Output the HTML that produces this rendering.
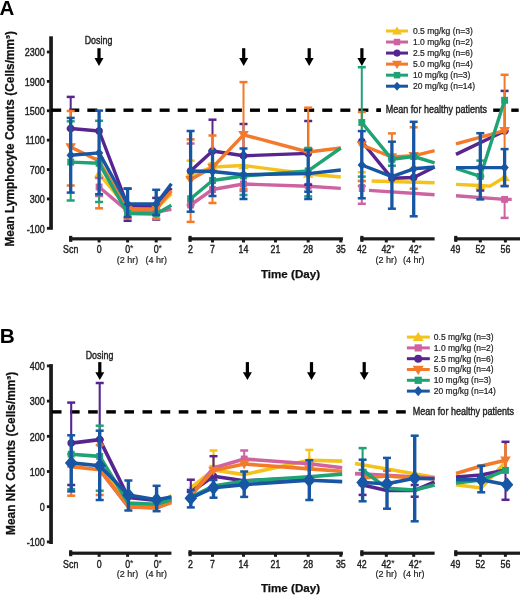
<!DOCTYPE html>
<html><head><meta charset="utf-8"><style>
html,body{margin:0;padding:0;background:#fff;width:520px;height:595px;overflow:hidden}
svg{display:block;will-change:transform}
text{font-family:"Liberation Sans", sans-serif}
</style></head><body>
<svg width="520" height="595" viewBox="0 0 520 595">
<rect width="520" height="595" fill="#fff"/>
<text transform="translate(-0.40,14.50)" font-size="20.5" font-weight="bold" text-anchor="start" fill="#000">A</text>
<rect x="49.20" y="36.30" width="3.70" height="193.50" fill="#1a1a1a"/>
<rect x="46.90" y="50.60" width="3.00" height="2.80" fill="#1a1a1a"/>
<text transform="translate(44.80,56.20) scale(0.82,1)" font-size="11" font-weight="normal" text-anchor="end" fill="#222" stroke="#222" stroke-width="0.42">2300</text>
<rect x="46.90" y="79.98" width="3.00" height="2.80" fill="#1a1a1a"/>
<text transform="translate(44.80,85.58) scale(0.82,1)" font-size="11" font-weight="normal" text-anchor="end" fill="#222" stroke="#222" stroke-width="0.42">1900</text>
<rect x="46.90" y="109.37" width="3.00" height="2.80" fill="#1a1a1a"/>
<text transform="translate(44.80,114.97) scale(0.82,1)" font-size="11" font-weight="normal" text-anchor="end" fill="#222" stroke="#222" stroke-width="0.42">1500</text>
<rect x="46.90" y="138.75" width="3.00" height="2.80" fill="#1a1a1a"/>
<text transform="translate(44.80,144.35) scale(0.82,1)" font-size="11" font-weight="normal" text-anchor="end" fill="#222" stroke="#222" stroke-width="0.42">1100</text>
<rect x="46.90" y="168.13" width="3.00" height="2.80" fill="#1a1a1a"/>
<text transform="translate(44.80,173.73) scale(0.82,1)" font-size="11" font-weight="normal" text-anchor="end" fill="#222" stroke="#222" stroke-width="0.42">700</text>
<rect x="46.90" y="197.52" width="3.00" height="2.80" fill="#1a1a1a"/>
<text transform="translate(44.80,203.12) scale(0.82,1)" font-size="11" font-weight="normal" text-anchor="end" fill="#222" stroke="#222" stroke-width="0.42">300</text>
<rect x="46.90" y="226.90" width="3.00" height="2.80" fill="#1a1a1a"/>
<text transform="translate(44.80,232.50) scale(0.82,1)" font-size="11" font-weight="normal" text-anchor="end" fill="#222" stroke="#222" stroke-width="0.42">-100</text>
<text transform="translate(13.70,246.60) rotate(-90)" font-size="11.9" font-weight="bold" text-anchor="start" fill="#111" stroke="#111" stroke-width="0.25">Mean Lymphocyte Counts (Cells/mm³)</text>
<rect x="69.10" y="237.25" width="102.30" height="3.20" fill="#1a1a1a"/>
<rect x="69.10" y="235.85" width="3.20" height="6.00" fill="#1a1a1a"/>
<rect x="188.50" y="237.25" width="154.40" height="3.20" fill="#1a1a1a"/>
<rect x="188.50" y="235.85" width="3.20" height="6.00" fill="#1a1a1a"/>
<rect x="360.30" y="237.25" width="74.30" height="3.20" fill="#1a1a1a"/>
<rect x="360.30" y="235.85" width="3.20" height="6.00" fill="#1a1a1a"/>
<rect x="454.20" y="237.25" width="65.80" height="3.20" fill="#1a1a1a"/>
<rect x="454.20" y="235.85" width="3.20" height="6.00" fill="#1a1a1a"/>
<rect x="97.60" y="238.85" width="3.00" height="3.60" fill="#1a1a1a"/>
<rect x="126.10" y="238.85" width="3.00" height="3.60" fill="#1a1a1a"/>
<rect x="154.70" y="238.85" width="3.00" height="3.60" fill="#1a1a1a"/>
<rect x="211.00" y="238.85" width="3.00" height="3.60" fill="#1a1a1a"/>
<rect x="242.00" y="238.85" width="3.00" height="3.60" fill="#1a1a1a"/>
<rect x="274.00" y="238.85" width="3.00" height="3.60" fill="#1a1a1a"/>
<rect x="306.70" y="238.85" width="3.00" height="3.60" fill="#1a1a1a"/>
<rect x="339.30" y="238.85" width="3.00" height="3.60" fill="#1a1a1a"/>
<rect x="384.80" y="238.85" width="3.00" height="3.60" fill="#1a1a1a"/>
<rect x="412.20" y="238.85" width="3.00" height="3.60" fill="#1a1a1a"/>
<rect x="478.80" y="238.85" width="3.00" height="3.60" fill="#1a1a1a"/>
<rect x="503.90" y="238.85" width="3.00" height="3.60" fill="#1a1a1a"/>
<text transform="translate(70.70,253.40) scale(0.84,1)" font-size="10.5" font-weight="normal" text-anchor="middle" fill="#222" stroke="#222" stroke-width="0.42">Scn</text>
<text transform="translate(99.10,253.40) scale(0.84,1)" font-size="10.5" font-weight="normal" text-anchor="middle" fill="#222" stroke="#222" stroke-width="0.42">0</text>
<text transform="translate(127.60,253.40) scale(0.84,1)" font-size="10.5" font-weight="normal" text-anchor="middle" fill="#222" stroke="#222" stroke-width="0.42">0</text>
<text transform="translate(127.60,262.80)" font-size="9.0" font-weight="normal" text-anchor="middle" fill="#222" stroke="#222" stroke-width="0.2">(2 hr)</text>
<text transform="translate(156.20,253.40) scale(0.84,1)" font-size="10.5" font-weight="normal" text-anchor="middle" fill="#222" stroke="#222" stroke-width="0.42">0</text>
<text transform="translate(156.20,262.80)" font-size="9.0" font-weight="normal" text-anchor="middle" fill="#222" stroke="#222" stroke-width="0.2">(4 hr)</text>
<text transform="translate(190.50,253.40) scale(0.84,1)" font-size="10.5" font-weight="normal" text-anchor="middle" fill="#222" stroke="#222" stroke-width="0.42">2</text>
<text transform="translate(212.50,253.40) scale(0.84,1)" font-size="10.5" font-weight="normal" text-anchor="middle" fill="#222" stroke="#222" stroke-width="0.42">7</text>
<text transform="translate(243.50,253.40) scale(0.84,1)" font-size="10.5" font-weight="normal" text-anchor="middle" fill="#222" stroke="#222" stroke-width="0.42">14</text>
<text transform="translate(275.50,253.40) scale(0.84,1)" font-size="10.5" font-weight="normal" text-anchor="middle" fill="#222" stroke="#222" stroke-width="0.42">21</text>
<text transform="translate(308.20,253.40) scale(0.84,1)" font-size="10.5" font-weight="normal" text-anchor="middle" fill="#222" stroke="#222" stroke-width="0.42">28</text>
<text transform="translate(340.80,253.40) scale(0.84,1)" font-size="10.5" font-weight="normal" text-anchor="middle" fill="#222" stroke="#222" stroke-width="0.42">35</text>
<text transform="translate(361.80,253.40) scale(0.84,1)" font-size="10.5" font-weight="normal" text-anchor="middle" fill="#222" stroke="#222" stroke-width="0.42">42</text>
<text transform="translate(386.30,253.40) scale(0.84,1)" font-size="10.5" font-weight="normal" text-anchor="middle" fill="#222" stroke="#222" stroke-width="0.42">42</text>
<text transform="translate(386.30,262.80)" font-size="9.0" font-weight="normal" text-anchor="middle" fill="#222" stroke="#222" stroke-width="0.2">(2 hr)</text>
<text transform="translate(413.70,253.40) scale(0.84,1)" font-size="10.5" font-weight="normal" text-anchor="middle" fill="#222" stroke="#222" stroke-width="0.42">42</text>
<text transform="translate(413.70,262.80)" font-size="9.0" font-weight="normal" text-anchor="middle" fill="#222" stroke="#222" stroke-width="0.2">(4 hr)</text>
<text transform="translate(455.50,253.40) scale(0.84,1)" font-size="10.5" font-weight="normal" text-anchor="middle" fill="#222" stroke="#222" stroke-width="0.42">49</text>
<text transform="translate(480.30,253.40) scale(0.84,1)" font-size="10.5" font-weight="normal" text-anchor="middle" fill="#222" stroke="#222" stroke-width="0.42">52</text>
<text transform="translate(505.40,253.40) scale(0.84,1)" font-size="10.5" font-weight="normal" text-anchor="middle" fill="#222" stroke="#222" stroke-width="0.42">56</text>
<text transform="translate(131.65,251.40)" font-size="8.5" font-weight="normal" text-anchor="middle" fill="#222" stroke="#222" stroke-width="0.1">*</text>
<text transform="translate(160.25,251.40)" font-size="8.5" font-weight="normal" text-anchor="middle" fill="#222" stroke="#222" stroke-width="0.1">*</text>
<text transform="translate(392.80,251.40)" font-size="8.5" font-weight="normal" text-anchor="middle" fill="#222" stroke="#222" stroke-width="0.1">*</text>
<text transform="translate(420.20,251.40)" font-size="8.5" font-weight="normal" text-anchor="middle" fill="#222" stroke="#222" stroke-width="0.1">*</text>
<text transform="translate(290.50,277.60)" font-size="11.6" font-weight="bold" text-anchor="middle" fill="#111" stroke="#111" stroke-width="0.25">Time (Day)</text>
<text transform="translate(98.50,44.20) scale(0.84,1)" font-size="10.6" font-weight="normal" text-anchor="middle" fill="#222" stroke="#222" stroke-width="0.4">Dosing</text>
<rect x="97.40" y="48.20" width="3.20" height="10.70" fill="#000"/>
<polygon points="94.50,57.90 103.50,57.90 99.00,66.00" fill="#000"/>
<rect x="242.10" y="48.20" width="3.20" height="10.70" fill="#000"/>
<polygon points="239.20,57.90 248.20,57.90 243.70,66.00" fill="#000"/>
<rect x="307.60" y="48.20" width="3.20" height="10.70" fill="#000"/>
<polygon points="304.70,57.90 313.70,57.90 309.20,66.00" fill="#000"/>
<rect x="360.30" y="48.20" width="3.20" height="10.70" fill="#000"/>
<polygon points="357.40,57.90 366.40,57.90 361.90,66.00" fill="#000"/>
<rect x="51.20" y="108.50" width="10.00" height="3.40" fill="#000"/>
<rect x="69.27" y="108.50" width="10.00" height="3.40" fill="#000"/>
<rect x="87.34" y="108.50" width="10.00" height="3.40" fill="#000"/>
<rect x="105.41" y="108.50" width="10.00" height="3.40" fill="#000"/>
<rect x="123.48" y="108.50" width="10.00" height="3.40" fill="#000"/>
<rect x="141.55" y="108.50" width="10.00" height="3.40" fill="#000"/>
<rect x="159.62" y="108.50" width="10.00" height="3.40" fill="#000"/>
<rect x="177.69" y="108.50" width="10.00" height="3.40" fill="#000"/>
<rect x="195.76" y="108.50" width="10.00" height="3.40" fill="#000"/>
<rect x="213.83" y="108.50" width="10.00" height="3.40" fill="#000"/>
<rect x="231.90" y="108.50" width="10.00" height="3.40" fill="#000"/>
<rect x="249.97" y="108.50" width="10.00" height="3.40" fill="#000"/>
<rect x="268.04" y="108.50" width="10.00" height="3.40" fill="#000"/>
<rect x="286.11" y="108.50" width="10.00" height="3.40" fill="#000"/>
<rect x="304.18" y="108.50" width="10.00" height="3.40" fill="#000"/>
<rect x="322.25" y="108.50" width="10.00" height="3.40" fill="#000"/>
<rect x="340.32" y="108.50" width="10.00" height="3.40" fill="#000"/>
<rect x="358.39" y="108.50" width="10.00" height="3.40" fill="#000"/>
<rect x="376.46" y="108.50" width="4.54" height="3.40" fill="#000"/>
<rect x="376.50" y="108.50" width="4.30" height="3.40" fill="#000"/>
<rect x="493.20" y="108.50" width="7.40" height="3.40" fill="#000"/>
<rect x="511.27" y="108.50" width="7.40" height="3.40" fill="#000"/>
<text transform="translate(385.80,113.00) scale(0.86,1)" font-size="10.5" font-weight="normal" text-anchor="start" fill="#222" stroke="#222" stroke-width="0.4">Mean for healthy patients</text>
<line x1="386.00" y1="31.00" x2="408.00" y2="31.00" stroke="#F5C21B" stroke-width="3.0" stroke-linecap="butt"/>
<polygon points="392.03,34.46 401.97,34.46 397.00,26.46" fill="#F5C21B"/>
<text transform="translate(413.00,33.90)" font-size="8.5" font-weight="normal" text-anchor="start" fill="#222" stroke="#222" stroke-width="0.2">0.5 mg/kg (n=3)</text>
<line x1="386.00" y1="42.04" x2="408.00" y2="42.04" stroke="#CF62A0" stroke-width="3.0" stroke-linecap="butt"/>
<rect x="393.76" y="38.80" width="6.48" height="6.48" fill="#CF62A0"/>
<text transform="translate(413.00,44.94)" font-size="8.5" font-weight="normal" text-anchor="start" fill="#222" stroke="#222" stroke-width="0.2">1.0 mg/kg (n=2)</text>
<line x1="386.00" y1="53.08" x2="408.00" y2="53.08" stroke="#572590" stroke-width="3.0" stroke-linecap="butt"/>
<circle cx="397.00" cy="53.08" r="3.56" fill="#572590"/>
<text transform="translate(413.00,55.98)" font-size="8.5" font-weight="normal" text-anchor="start" fill="#222" stroke="#222" stroke-width="0.2">2.5 mg/kg (n=6)</text>
<line x1="386.00" y1="64.12" x2="408.00" y2="64.12" stroke="#F37A2A" stroke-width="3.0" stroke-linecap="butt"/>
<polygon points="392.03,60.66 401.97,60.66 397.00,69.09" fill="#F37A2A"/>
<text transform="translate(413.00,67.02)" font-size="8.5" font-weight="normal" text-anchor="start" fill="#222" stroke="#222" stroke-width="0.2">5.0 mg/kg (n=4)</text>
<line x1="386.00" y1="75.16" x2="408.00" y2="75.16" stroke="#1FA274" stroke-width="3.0" stroke-linecap="butt"/>
<rect x="393.76" y="71.92" width="6.48" height="6.48" fill="#1FA274"/>
<text transform="translate(413.00,78.06)" font-size="8.5" font-weight="normal" text-anchor="start" fill="#222" stroke="#222" stroke-width="0.2">10 mg/kg (n=3)</text>
<line x1="386.00" y1="86.20" x2="408.00" y2="86.20" stroke="#1756A3" stroke-width="3.0" stroke-linecap="butt"/>
<polygon points="397.00,81.66 400.89,86.20 397.00,90.74 393.11,86.20" fill="#1756A3"/>
<text transform="translate(413.00,89.10)" font-size="8.5" font-weight="normal" text-anchor="start" fill="#222" stroke="#222" stroke-width="0.2">20 mg/kg (n=14)</text>
<line x1="190.60" y1="160.70" x2="190.60" y2="175.00" stroke="#F5C21B" stroke-width="2.0" stroke-linecap="butt"/>
<line x1="186.60" y1="160.70" x2="194.60" y2="160.70" stroke="#F5C21B" stroke-width="2.5" stroke-linecap="butt"/>
<line x1="186.60" y1="175.00" x2="194.60" y2="175.00" stroke="#F5C21B" stroke-width="2.5" stroke-linecap="butt"/>
<line x1="212.50" y1="163.50" x2="212.50" y2="167.00" stroke="#F5C21B" stroke-width="2.0" stroke-linecap="butt"/>
<line x1="208.50" y1="163.50" x2="216.50" y2="163.50" stroke="#F5C21B" stroke-width="2.5" stroke-linecap="butt"/>
<line x1="208.50" y1="167.00" x2="216.50" y2="167.00" stroke="#F5C21B" stroke-width="2.5" stroke-linecap="butt"/>
<line x1="361.80" y1="172.30" x2="361.80" y2="181.00" stroke="#F5C21B" stroke-width="2.0" stroke-linecap="butt"/>
<line x1="357.80" y1="172.30" x2="365.80" y2="172.30" stroke="#F5C21B" stroke-width="2.5" stroke-linecap="butt"/>
<line x1="357.80" y1="181.00" x2="365.80" y2="181.00" stroke="#F5C21B" stroke-width="2.5" stroke-linecap="butt"/>
<polyline points="99.10,174.00 127.60,208.00 156.20,208.50 171.40,193.50" fill="none" stroke="#F5C21B" stroke-width="3.4" stroke-linejoin="round" stroke-linecap="butt"/>
<polyline points="190.60,175.00 212.50,167.00 243.50,165.50 308.20,174.00 340.80,177.00" fill="none" stroke="#F5C21B" stroke-width="3.4" stroke-linejoin="round" stroke-linecap="butt"/>
<polyline points="371.60,181.00 434.60,182.70" fill="none" stroke="#F5C21B" stroke-width="3.4" stroke-linejoin="round" stroke-linecap="butt"/>
<polyline points="456.00,184.40 480.30,185.50 490.00,186.10 504.60,177.30" fill="none" stroke="#F5C21B" stroke-width="3.4" stroke-linejoin="round" stroke-linecap="butt"/>
<polygon points="93.81,177.68 104.39,177.68 99.10,169.17" fill="#F5C21B"/>
<polygon points="122.31,211.68 132.89,211.68 127.60,203.17" fill="#F5C21B"/>
<polygon points="150.91,212.18 161.49,212.18 156.20,203.67" fill="#F5C21B"/>
<polygon points="185.31,178.68 195.89,178.68 190.60,170.17" fill="#F5C21B"/>
<polygon points="207.21,170.68 217.79,170.68 212.50,162.17" fill="#F5C21B"/>
<polygon points="238.21,169.18 248.79,169.18 243.50,160.67" fill="#F5C21B"/>
<polygon points="302.91,177.68 313.49,177.68 308.20,169.17" fill="#F5C21B"/>
<polygon points="475.01,189.18 485.59,189.18 480.30,180.67" fill="#F5C21B"/>
<polygon points="499.31,180.98 509.89,180.98 504.60,172.47" fill="#F5C21B"/>
<line x1="99.10" y1="178.00" x2="99.10" y2="196.00" stroke="#CF62A0" stroke-width="2.0" stroke-linecap="butt"/>
<line x1="95.10" y1="178.00" x2="103.10" y2="178.00" stroke="#CF62A0" stroke-width="2.5" stroke-linecap="butt"/>
<line x1="95.10" y1="196.00" x2="103.10" y2="196.00" stroke="#CF62A0" stroke-width="2.5" stroke-linecap="butt"/>
<line x1="190.60" y1="143.50" x2="190.60" y2="205.00" stroke="#CF62A0" stroke-width="2.0" stroke-linecap="butt"/>
<line x1="186.60" y1="143.50" x2="194.60" y2="143.50" stroke="#CF62A0" stroke-width="2.5" stroke-linecap="butt"/>
<line x1="186.60" y1="205.00" x2="194.60" y2="205.00" stroke="#CF62A0" stroke-width="2.5" stroke-linecap="butt"/>
<line x1="243.50" y1="184.00" x2="243.50" y2="191.00" stroke="#CF62A0" stroke-width="2.0" stroke-linecap="butt"/>
<line x1="239.50" y1="184.00" x2="247.50" y2="184.00" stroke="#CF62A0" stroke-width="2.5" stroke-linecap="butt"/>
<line x1="239.50" y1="191.00" x2="247.50" y2="191.00" stroke="#CF62A0" stroke-width="2.5" stroke-linecap="butt"/>
<line x1="361.80" y1="186.00" x2="361.80" y2="203.80" stroke="#CF62A0" stroke-width="2.0" stroke-linecap="butt"/>
<line x1="357.80" y1="186.00" x2="365.80" y2="186.00" stroke="#CF62A0" stroke-width="2.5" stroke-linecap="butt"/>
<line x1="357.80" y1="203.80" x2="365.80" y2="203.80" stroke="#CF62A0" stroke-width="2.5" stroke-linecap="butt"/>
<line x1="504.60" y1="199.40" x2="504.60" y2="217.90" stroke="#CF62A0" stroke-width="2.0" stroke-linecap="butt"/>
<line x1="500.60" y1="199.40" x2="508.60" y2="199.40" stroke="#CF62A0" stroke-width="2.5" stroke-linecap="butt"/>
<line x1="500.60" y1="217.90" x2="508.60" y2="217.90" stroke="#CF62A0" stroke-width="2.5" stroke-linecap="butt"/>
<polyline points="99.10,187.00 127.60,211.00 156.20,212.00 171.40,209.30" fill="none" stroke="#CF62A0" stroke-width="3.4" stroke-linejoin="round" stroke-linecap="butt"/>
<polyline points="190.60,205.00 212.50,189.50 243.50,184.00 308.20,186.20 340.80,188.40" fill="none" stroke="#CF62A0" stroke-width="3.4" stroke-linejoin="round" stroke-linecap="butt"/>
<polyline points="369.00,190.40 434.60,194.80" fill="none" stroke="#CF62A0" stroke-width="3.4" stroke-linejoin="round" stroke-linecap="butt"/>
<polyline points="456.00,195.80 504.60,199.40 511.70,199.40" fill="none" stroke="#CF62A0" stroke-width="3.4" stroke-linejoin="round" stroke-linecap="butt"/>
<rect x="95.65" y="183.55" width="6.90" height="6.90" fill="#CF62A0"/>
<rect x="124.15" y="207.55" width="6.90" height="6.90" fill="#CF62A0"/>
<rect x="152.75" y="208.55" width="6.90" height="6.90" fill="#CF62A0"/>
<rect x="187.15" y="201.55" width="6.90" height="6.90" fill="#CF62A0"/>
<rect x="209.05" y="186.05" width="6.90" height="6.90" fill="#CF62A0"/>
<rect x="240.05" y="180.55" width="6.90" height="6.90" fill="#CF62A0"/>
<rect x="304.75" y="182.75" width="6.90" height="6.90" fill="#CF62A0"/>
<rect x="501.15" y="195.95" width="6.90" height="6.90" fill="#CF62A0"/>
<rect x="358.8" y="184" width="6" height="8" fill="#CF62A0"/>
<line x1="70.70" y1="96.90" x2="70.70" y2="128.50" stroke="#572590" stroke-width="2.0" stroke-linecap="butt"/>
<line x1="66.70" y1="96.90" x2="74.70" y2="96.90" stroke="#572590" stroke-width="2.5" stroke-linecap="butt"/>
<line x1="66.70" y1="128.50" x2="74.70" y2="128.50" stroke="#572590" stroke-width="2.5" stroke-linecap="butt"/>
<line x1="127.60" y1="188.50" x2="127.60" y2="220.80" stroke="#572590" stroke-width="2.0" stroke-linecap="butt"/>
<line x1="123.60" y1="188.50" x2="131.60" y2="188.50" stroke="#572590" stroke-width="2.5" stroke-linecap="butt"/>
<line x1="123.60" y1="220.80" x2="131.60" y2="220.80" stroke="#572590" stroke-width="2.5" stroke-linecap="butt"/>
<line x1="156.20" y1="197.90" x2="156.20" y2="219.50" stroke="#572590" stroke-width="2.0" stroke-linecap="butt"/>
<line x1="152.20" y1="197.90" x2="160.20" y2="197.90" stroke="#572590" stroke-width="2.5" stroke-linecap="butt"/>
<line x1="152.20" y1="219.50" x2="160.20" y2="219.50" stroke="#572590" stroke-width="2.5" stroke-linecap="butt"/>
<line x1="212.50" y1="119.70" x2="212.50" y2="151.00" stroke="#572590" stroke-width="2.0" stroke-linecap="butt"/>
<line x1="208.50" y1="119.70" x2="216.50" y2="119.70" stroke="#572590" stroke-width="2.5" stroke-linecap="butt"/>
<line x1="208.50" y1="151.00" x2="216.50" y2="151.00" stroke="#572590" stroke-width="2.5" stroke-linecap="butt"/>
<line x1="243.50" y1="124.00" x2="243.50" y2="155.80" stroke="#572590" stroke-width="2.0" stroke-linecap="butt"/>
<line x1="239.50" y1="124.00" x2="247.50" y2="124.00" stroke="#572590" stroke-width="2.5" stroke-linecap="butt"/>
<line x1="239.50" y1="155.80" x2="247.50" y2="155.80" stroke="#572590" stroke-width="2.5" stroke-linecap="butt"/>
<line x1="308.20" y1="121.00" x2="308.20" y2="184.70" stroke="#572590" stroke-width="2.0" stroke-linecap="butt"/>
<line x1="304.20" y1="121.00" x2="312.20" y2="121.00" stroke="#572590" stroke-width="2.5" stroke-linecap="butt"/>
<line x1="304.20" y1="184.70" x2="312.20" y2="184.70" stroke="#572590" stroke-width="2.5" stroke-linecap="butt"/>
<line x1="504.60" y1="90.90" x2="504.60" y2="131.00" stroke="#572590" stroke-width="2.0" stroke-linecap="butt"/>
<line x1="500.60" y1="90.90" x2="508.60" y2="90.90" stroke="#572590" stroke-width="2.5" stroke-linecap="butt"/>
<line x1="500.60" y1="131.00" x2="508.60" y2="131.00" stroke="#572590" stroke-width="2.5" stroke-linecap="butt"/>
<line x1="480.30" y1="167.00" x2="480.30" y2="190.50" stroke="#572590" stroke-width="2.0" stroke-linecap="butt"/>
<line x1="476.30" y1="167.00" x2="484.30" y2="167.00" stroke="#572590" stroke-width="2.5" stroke-linecap="butt"/>
<line x1="476.30" y1="190.50" x2="484.30" y2="190.50" stroke="#572590" stroke-width="2.5" stroke-linecap="butt"/>
<polyline points="70.70,128.50 99.10,131.00 127.60,205.50 156.20,206.00 171.40,188.00" fill="none" stroke="#572590" stroke-width="3.4" stroke-linejoin="round" stroke-linecap="butt"/>
<polyline points="190.60,171.00 212.50,151.00 243.50,155.80 308.20,153.40" fill="none" stroke="#572590" stroke-width="3.4" stroke-linejoin="round" stroke-linecap="butt"/>
<polyline points="361.80,141.50 391.90,178.30 413.70,177.50 434.60,167.00" fill="none" stroke="#572590" stroke-width="3.4" stroke-linejoin="round" stroke-linecap="butt"/>
<polyline points="456.00,154.40 504.60,131.00" fill="none" stroke="#572590" stroke-width="3.4" stroke-linejoin="round" stroke-linecap="butt"/>
<circle cx="70.70" cy="128.50" r="3.79" fill="#572590"/>
<circle cx="99.10" cy="131.00" r="3.79" fill="#572590"/>
<circle cx="127.60" cy="205.50" r="3.79" fill="#572590"/>
<circle cx="156.20" cy="206.00" r="3.79" fill="#572590"/>
<circle cx="190.60" cy="171.00" r="3.79" fill="#572590"/>
<circle cx="212.50" cy="151.00" r="3.79" fill="#572590"/>
<circle cx="243.50" cy="155.80" r="3.79" fill="#572590"/>
<circle cx="308.20" cy="153.40" r="3.79" fill="#572590"/>
<circle cx="361.80" cy="141.50" r="3.79" fill="#572590"/>
<circle cx="391.90" cy="178.30" r="3.79" fill="#572590"/>
<circle cx="413.70" cy="177.50" r="3.79" fill="#572590"/>
<circle cx="504.60" cy="131.00" r="3.79" fill="#572590"/>
<line x1="70.70" y1="111.00" x2="70.70" y2="185.50" stroke="#F37A2A" stroke-width="2.0" stroke-linecap="butt"/>
<line x1="66.70" y1="111.00" x2="74.70" y2="111.00" stroke="#F37A2A" stroke-width="2.5" stroke-linecap="butt"/>
<line x1="66.70" y1="185.50" x2="74.70" y2="185.50" stroke="#F37A2A" stroke-width="2.5" stroke-linecap="butt"/>
<line x1="99.10" y1="161.00" x2="99.10" y2="208.30" stroke="#F37A2A" stroke-width="2.0" stroke-linecap="butt"/>
<line x1="95.10" y1="161.00" x2="103.10" y2="161.00" stroke="#F37A2A" stroke-width="2.5" stroke-linecap="butt"/>
<line x1="95.10" y1="208.30" x2="103.10" y2="208.30" stroke="#F37A2A" stroke-width="2.5" stroke-linecap="butt"/>
<line x1="127.60" y1="209.30" x2="127.60" y2="218.30" stroke="#F37A2A" stroke-width="2.0" stroke-linecap="butt"/>
<line x1="123.60" y1="209.30" x2="131.60" y2="209.30" stroke="#F37A2A" stroke-width="2.5" stroke-linecap="butt"/>
<line x1="123.60" y1="218.30" x2="131.60" y2="218.30" stroke="#F37A2A" stroke-width="2.5" stroke-linecap="butt"/>
<line x1="156.20" y1="209.00" x2="156.20" y2="218.70" stroke="#F37A2A" stroke-width="2.0" stroke-linecap="butt"/>
<line x1="152.20" y1="209.00" x2="160.20" y2="209.00" stroke="#F37A2A" stroke-width="2.5" stroke-linecap="butt"/>
<line x1="152.20" y1="218.70" x2="160.20" y2="218.70" stroke="#F37A2A" stroke-width="2.5" stroke-linecap="butt"/>
<line x1="190.60" y1="139.40" x2="190.60" y2="221.90" stroke="#F37A2A" stroke-width="2.0" stroke-linecap="butt"/>
<line x1="186.60" y1="139.40" x2="194.60" y2="139.40" stroke="#F37A2A" stroke-width="2.5" stroke-linecap="butt"/>
<line x1="186.60" y1="221.90" x2="194.60" y2="221.90" stroke="#F37A2A" stroke-width="2.5" stroke-linecap="butt"/>
<line x1="212.50" y1="135.50" x2="212.50" y2="203.00" stroke="#F37A2A" stroke-width="2.0" stroke-linecap="butt"/>
<line x1="208.50" y1="135.50" x2="216.50" y2="135.50" stroke="#F37A2A" stroke-width="2.5" stroke-linecap="butt"/>
<line x1="208.50" y1="203.00" x2="216.50" y2="203.00" stroke="#F37A2A" stroke-width="2.5" stroke-linecap="butt"/>
<line x1="243.50" y1="82.10" x2="243.50" y2="189.00" stroke="#F37A2A" stroke-width="2.0" stroke-linecap="butt"/>
<line x1="239.50" y1="82.10" x2="247.50" y2="82.10" stroke="#F37A2A" stroke-width="2.5" stroke-linecap="butt"/>
<line x1="239.50" y1="189.00" x2="247.50" y2="189.00" stroke="#F37A2A" stroke-width="2.5" stroke-linecap="butt"/>
<line x1="308.20" y1="107.70" x2="308.20" y2="152.00" stroke="#F37A2A" stroke-width="2.0" stroke-linecap="butt"/>
<line x1="304.20" y1="107.70" x2="312.20" y2="107.70" stroke="#F37A2A" stroke-width="2.5" stroke-linecap="butt"/>
<line x1="304.20" y1="152.00" x2="312.20" y2="152.00" stroke="#F37A2A" stroke-width="2.5" stroke-linecap="butt"/>
<line x1="361.80" y1="112.00" x2="361.80" y2="181.00" stroke="#F37A2A" stroke-width="2.0" stroke-linecap="butt"/>
<line x1="357.80" y1="112.00" x2="365.80" y2="112.00" stroke="#F37A2A" stroke-width="2.5" stroke-linecap="butt"/>
<line x1="357.80" y1="181.00" x2="365.80" y2="181.00" stroke="#F37A2A" stroke-width="2.5" stroke-linecap="butt"/>
<line x1="391.90" y1="133.40" x2="391.90" y2="157.00" stroke="#F37A2A" stroke-width="2.0" stroke-linecap="butt"/>
<line x1="387.90" y1="133.40" x2="395.90" y2="133.40" stroke="#F37A2A" stroke-width="2.5" stroke-linecap="butt"/>
<line x1="387.90" y1="157.00" x2="395.90" y2="157.00" stroke="#F37A2A" stroke-width="2.5" stroke-linecap="butt"/>
<line x1="413.70" y1="127.30" x2="413.70" y2="188.70" stroke="#F37A2A" stroke-width="2.0" stroke-linecap="butt"/>
<line x1="409.70" y1="127.30" x2="417.70" y2="127.30" stroke="#F37A2A" stroke-width="2.5" stroke-linecap="butt"/>
<line x1="409.70" y1="188.70" x2="417.70" y2="188.70" stroke="#F37A2A" stroke-width="2.5" stroke-linecap="butt"/>
<line x1="504.60" y1="74.80" x2="504.60" y2="186.00" stroke="#F37A2A" stroke-width="2.0" stroke-linecap="butt"/>
<line x1="500.60" y1="74.80" x2="508.60" y2="74.80" stroke="#F37A2A" stroke-width="2.5" stroke-linecap="butt"/>
<line x1="500.60" y1="186.00" x2="508.60" y2="186.00" stroke="#F37A2A" stroke-width="2.5" stroke-linecap="butt"/>
<polyline points="70.70,147.00 99.10,161.00 127.60,209.30 156.20,209.00 171.40,191.00" fill="none" stroke="#F37A2A" stroke-width="3.4" stroke-linejoin="round" stroke-linecap="butt"/>
<polyline points="190.60,179.60 212.50,167.50 243.50,134.80 308.20,152.00 340.80,148.00" fill="none" stroke="#F37A2A" stroke-width="3.4" stroke-linejoin="round" stroke-linecap="butt"/>
<polyline points="361.80,145.00 391.90,157.00 413.70,155.80 434.60,150.70" fill="none" stroke="#F37A2A" stroke-width="3.4" stroke-linejoin="round" stroke-linecap="butt"/>
<polyline points="456.00,143.80 504.60,130.60" fill="none" stroke="#F37A2A" stroke-width="3.4" stroke-linejoin="round" stroke-linecap="butt"/>
<polygon points="65.41,143.32 75.99,143.32 70.70,152.29" fill="#F37A2A"/>
<polygon points="93.81,157.32 104.39,157.32 99.10,166.29" fill="#F37A2A"/>
<polygon points="122.31,205.62 132.89,205.62 127.60,214.59" fill="#F37A2A"/>
<polygon points="150.91,205.32 161.49,205.32 156.20,214.29" fill="#F37A2A"/>
<polygon points="185.31,175.92 195.89,175.92 190.60,184.89" fill="#F37A2A"/>
<polygon points="207.21,163.82 217.79,163.82 212.50,172.79" fill="#F37A2A"/>
<polygon points="238.21,131.12 248.79,131.12 243.50,140.09" fill="#F37A2A"/>
<polygon points="302.91,148.32 313.49,148.32 308.20,157.29" fill="#F37A2A"/>
<polygon points="356.51,141.32 367.09,141.32 361.80,150.29" fill="#F37A2A"/>
<polygon points="386.61,153.32 397.19,153.32 391.90,162.29" fill="#F37A2A"/>
<polygon points="408.41,152.12 418.99,152.12 413.70,161.09" fill="#F37A2A"/>
<polygon points="499.31,126.92 509.89,126.92 504.60,135.89" fill="#F37A2A"/>
<line x1="70.70" y1="121.30" x2="70.70" y2="200.50" stroke="#1FA274" stroke-width="2.0" stroke-linecap="butt"/>
<line x1="66.70" y1="121.30" x2="74.70" y2="121.30" stroke="#1FA274" stroke-width="2.5" stroke-linecap="butt"/>
<line x1="66.70" y1="200.50" x2="74.70" y2="200.50" stroke="#1FA274" stroke-width="2.5" stroke-linecap="butt"/>
<line x1="99.10" y1="120.80" x2="99.10" y2="202.00" stroke="#1FA274" stroke-width="2.0" stroke-linecap="butt"/>
<line x1="95.10" y1="120.80" x2="103.10" y2="120.80" stroke="#1FA274" stroke-width="2.5" stroke-linecap="butt"/>
<line x1="95.10" y1="202.00" x2="103.10" y2="202.00" stroke="#1FA274" stroke-width="2.5" stroke-linecap="butt"/>
<line x1="243.50" y1="176.00" x2="243.50" y2="195.00" stroke="#1FA274" stroke-width="2.0" stroke-linecap="butt"/>
<line x1="239.50" y1="176.00" x2="247.50" y2="176.00" stroke="#1FA274" stroke-width="2.5" stroke-linecap="butt"/>
<line x1="239.50" y1="195.00" x2="247.50" y2="195.00" stroke="#1FA274" stroke-width="2.5" stroke-linecap="butt"/>
<line x1="308.20" y1="148.00" x2="308.20" y2="196.40" stroke="#1FA274" stroke-width="2.0" stroke-linecap="butt"/>
<line x1="304.20" y1="148.00" x2="312.20" y2="148.00" stroke="#1FA274" stroke-width="2.5" stroke-linecap="butt"/>
<line x1="304.20" y1="196.40" x2="312.20" y2="196.40" stroke="#1FA274" stroke-width="2.5" stroke-linecap="butt"/>
<line x1="361.80" y1="67.20" x2="361.80" y2="176.60" stroke="#1FA274" stroke-width="2.0" stroke-linecap="butt"/>
<line x1="357.80" y1="67.20" x2="365.80" y2="67.20" stroke="#1FA274" stroke-width="2.5" stroke-linecap="butt"/>
<line x1="357.80" y1="176.60" x2="365.80" y2="176.60" stroke="#1FA274" stroke-width="2.5" stroke-linecap="butt"/>
<line x1="391.90" y1="159.30" x2="391.90" y2="165.70" stroke="#1FA274" stroke-width="2.0" stroke-linecap="butt"/>
<line x1="387.90" y1="159.30" x2="395.90" y2="159.30" stroke="#1FA274" stroke-width="2.5" stroke-linecap="butt"/>
<line x1="387.90" y1="165.70" x2="395.90" y2="165.70" stroke="#1FA274" stroke-width="2.5" stroke-linecap="butt"/>
<line x1="480.30" y1="160.60" x2="480.30" y2="176.40" stroke="#1FA274" stroke-width="2.0" stroke-linecap="butt"/>
<line x1="476.30" y1="160.60" x2="484.30" y2="160.60" stroke="#1FA274" stroke-width="2.5" stroke-linecap="butt"/>
<line x1="476.30" y1="176.40" x2="484.30" y2="176.40" stroke="#1FA274" stroke-width="2.5" stroke-linecap="butt"/>
<polyline points="70.70,162.10 99.10,163.30 127.60,213.50 156.20,214.00 171.40,205.30" fill="none" stroke="#1FA274" stroke-width="3.4" stroke-linejoin="round" stroke-linecap="butt"/>
<polyline points="190.60,198.70 212.50,180.50 243.50,176.00 308.20,170.90 340.80,148.00" fill="none" stroke="#1FA274" stroke-width="3.4" stroke-linejoin="round" stroke-linecap="butt"/>
<polyline points="361.80,122.50 391.90,159.30 413.70,156.50 434.60,162.80" fill="none" stroke="#1FA274" stroke-width="3.4" stroke-linejoin="round" stroke-linecap="butt"/>
<polyline points="456.00,168.50 480.30,176.40 504.60,100.30" fill="none" stroke="#1FA274" stroke-width="3.4" stroke-linejoin="round" stroke-linecap="butt"/>
<rect x="67.25" y="158.65" width="6.90" height="6.90" fill="#1FA274"/>
<rect x="95.65" y="159.85" width="6.90" height="6.90" fill="#1FA274"/>
<rect x="124.15" y="210.05" width="6.90" height="6.90" fill="#1FA274"/>
<rect x="152.75" y="210.55" width="6.90" height="6.90" fill="#1FA274"/>
<rect x="187.15" y="195.25" width="6.90" height="6.90" fill="#1FA274"/>
<rect x="209.05" y="177.05" width="6.90" height="6.90" fill="#1FA274"/>
<rect x="240.05" y="172.55" width="6.90" height="6.90" fill="#1FA274"/>
<rect x="304.75" y="167.45" width="6.90" height="6.90" fill="#1FA274"/>
<rect x="358.35" y="119.05" width="6.90" height="6.90" fill="#1FA274"/>
<rect x="388.45" y="155.85" width="6.90" height="6.90" fill="#1FA274"/>
<rect x="410.25" y="153.05" width="6.90" height="6.90" fill="#1FA274"/>
<rect x="476.85" y="172.95" width="6.90" height="6.90" fill="#1FA274"/>
<rect x="501.15" y="96.85" width="6.90" height="6.90" fill="#1FA274"/>
<line x1="70.70" y1="117.90" x2="70.70" y2="192.60" stroke="#1756A3" stroke-width="3.3" stroke-linecap="butt"/>
<line x1="66.70" y1="117.90" x2="74.70" y2="117.90" stroke="#1756A3" stroke-width="2.5" stroke-linecap="butt"/>
<line x1="66.70" y1="192.60" x2="74.70" y2="192.60" stroke="#1756A3" stroke-width="2.5" stroke-linecap="butt"/>
<line x1="99.10" y1="110.60" x2="99.10" y2="194.20" stroke="#1756A3" stroke-width="3.3" stroke-linecap="butt"/>
<line x1="95.10" y1="110.60" x2="103.10" y2="110.60" stroke="#1756A3" stroke-width="2.5" stroke-linecap="butt"/>
<line x1="95.10" y1="194.20" x2="103.10" y2="194.20" stroke="#1756A3" stroke-width="2.5" stroke-linecap="butt"/>
<line x1="127.60" y1="188.80" x2="127.60" y2="217.00" stroke="#1756A3" stroke-width="3.3" stroke-linecap="butt"/>
<line x1="123.60" y1="188.80" x2="131.60" y2="188.80" stroke="#1756A3" stroke-width="2.5" stroke-linecap="butt"/>
<line x1="123.60" y1="217.00" x2="131.60" y2="217.00" stroke="#1756A3" stroke-width="2.5" stroke-linecap="butt"/>
<line x1="156.20" y1="189.80" x2="156.20" y2="215.00" stroke="#1756A3" stroke-width="3.3" stroke-linecap="butt"/>
<line x1="152.20" y1="189.80" x2="160.20" y2="189.80" stroke="#1756A3" stroke-width="2.5" stroke-linecap="butt"/>
<line x1="152.20" y1="215.00" x2="160.20" y2="215.00" stroke="#1756A3" stroke-width="2.5" stroke-linecap="butt"/>
<line x1="190.60" y1="131.00" x2="190.60" y2="211.70" stroke="#1756A3" stroke-width="3.3" stroke-linecap="butt"/>
<line x1="186.60" y1="131.00" x2="194.60" y2="131.00" stroke="#1756A3" stroke-width="2.5" stroke-linecap="butt"/>
<line x1="186.60" y1="211.70" x2="194.60" y2="211.70" stroke="#1756A3" stroke-width="2.5" stroke-linecap="butt"/>
<line x1="212.50" y1="151.00" x2="212.50" y2="196.00" stroke="#1756A3" stroke-width="3.3" stroke-linecap="butt"/>
<line x1="208.50" y1="151.00" x2="216.50" y2="151.00" stroke="#1756A3" stroke-width="2.5" stroke-linecap="butt"/>
<line x1="208.50" y1="196.00" x2="216.50" y2="196.00" stroke="#1756A3" stroke-width="2.5" stroke-linecap="butt"/>
<line x1="243.50" y1="148.50" x2="243.50" y2="199.00" stroke="#1756A3" stroke-width="3.3" stroke-linecap="butt"/>
<line x1="239.50" y1="148.50" x2="247.50" y2="148.50" stroke="#1756A3" stroke-width="2.5" stroke-linecap="butt"/>
<line x1="239.50" y1="199.00" x2="247.50" y2="199.00" stroke="#1756A3" stroke-width="2.5" stroke-linecap="butt"/>
<line x1="308.20" y1="150.00" x2="308.20" y2="199.00" stroke="#1756A3" stroke-width="3.3" stroke-linecap="butt"/>
<line x1="304.20" y1="150.00" x2="312.20" y2="150.00" stroke="#1756A3" stroke-width="2.5" stroke-linecap="butt"/>
<line x1="304.20" y1="199.00" x2="312.20" y2="199.00" stroke="#1756A3" stroke-width="2.5" stroke-linecap="butt"/>
<line x1="308.20" y1="173.60" x2="308.20" y2="191.70" stroke="#1756A3" stroke-width="3.3" stroke-linecap="butt"/>
<line x1="304.20" y1="173.60" x2="312.20" y2="173.60" stroke="#1756A3" stroke-width="2.5" stroke-linecap="butt"/>
<line x1="304.20" y1="191.70" x2="312.20" y2="191.70" stroke="#1756A3" stroke-width="2.5" stroke-linecap="butt"/>
<line x1="361.80" y1="131.10" x2="361.80" y2="198.30" stroke="#1756A3" stroke-width="3.3" stroke-linecap="butt"/>
<line x1="357.80" y1="131.10" x2="365.80" y2="131.10" stroke="#1756A3" stroke-width="2.5" stroke-linecap="butt"/>
<line x1="357.80" y1="198.30" x2="365.80" y2="198.30" stroke="#1756A3" stroke-width="2.5" stroke-linecap="butt"/>
<line x1="391.90" y1="141.70" x2="391.90" y2="208.70" stroke="#1756A3" stroke-width="3.3" stroke-linecap="butt"/>
<line x1="387.90" y1="141.70" x2="395.90" y2="141.70" stroke="#1756A3" stroke-width="2.5" stroke-linecap="butt"/>
<line x1="387.90" y1="208.70" x2="395.90" y2="208.70" stroke="#1756A3" stroke-width="2.5" stroke-linecap="butt"/>
<line x1="413.70" y1="121.80" x2="413.70" y2="216.30" stroke="#1756A3" stroke-width="3.3" stroke-linecap="butt"/>
<line x1="409.70" y1="121.80" x2="417.70" y2="121.80" stroke="#1756A3" stroke-width="2.5" stroke-linecap="butt"/>
<line x1="409.70" y1="216.30" x2="417.70" y2="216.30" stroke="#1756A3" stroke-width="2.5" stroke-linecap="butt"/>
<line x1="480.30" y1="133.20" x2="480.30" y2="199.40" stroke="#1756A3" stroke-width="3.3" stroke-linecap="butt"/>
<line x1="476.30" y1="133.20" x2="484.30" y2="133.20" stroke="#1756A3" stroke-width="2.5" stroke-linecap="butt"/>
<line x1="476.30" y1="199.40" x2="484.30" y2="199.40" stroke="#1756A3" stroke-width="2.5" stroke-linecap="butt"/>
<line x1="504.60" y1="149.10" x2="504.60" y2="186.10" stroke="#1756A3" stroke-width="3.3" stroke-linecap="butt"/>
<line x1="500.60" y1="149.10" x2="508.60" y2="149.10" stroke="#1756A3" stroke-width="2.5" stroke-linecap="butt"/>
<line x1="500.60" y1="186.10" x2="508.60" y2="186.10" stroke="#1756A3" stroke-width="2.5" stroke-linecap="butt"/>
<polyline points="70.70,155.20 99.10,152.90 127.60,204.00 156.20,204.00 171.40,183.70" fill="none" stroke="#1756A3" stroke-width="3.4" stroke-linejoin="round" stroke-linecap="butt"/>
<polyline points="190.60,171.00 212.50,171.50 243.50,174.70 308.20,173.60 340.80,170.00" fill="none" stroke="#1756A3" stroke-width="3.4" stroke-linejoin="round" stroke-linecap="butt"/>
<polyline points="361.80,165.00 391.90,176.60 413.70,168.80 434.60,167.00" fill="none" stroke="#1756A3" stroke-width="3.4" stroke-linejoin="round" stroke-linecap="butt"/>
<polyline points="456.00,167.60 480.30,167.60 504.60,167.60" fill="none" stroke="#1756A3" stroke-width="3.4" stroke-linejoin="round" stroke-linecap="butt"/>
<polygon points="70.70,150.37 74.84,155.20 70.70,160.03 66.56,155.20" fill="#1756A3"/>
<polygon points="99.10,148.07 103.24,152.90 99.10,157.73 94.96,152.90" fill="#1756A3"/>
<polygon points="127.60,199.17 131.74,204.00 127.60,208.83 123.46,204.00" fill="#1756A3"/>
<polygon points="156.20,199.17 160.34,204.00 156.20,208.83 152.06,204.00" fill="#1756A3"/>
<polygon points="190.60,166.17 194.74,171.00 190.60,175.83 186.46,171.00" fill="#1756A3"/>
<polygon points="212.50,166.67 216.64,171.50 212.50,176.33 208.36,171.50" fill="#1756A3"/>
<polygon points="243.50,169.87 247.64,174.70 243.50,179.53 239.36,174.70" fill="#1756A3"/>
<polygon points="308.20,168.77 312.34,173.60 308.20,178.43 304.06,173.60" fill="#1756A3"/>
<polygon points="361.80,160.17 365.94,165.00 361.80,169.83 357.66,165.00" fill="#1756A3"/>
<polygon points="391.90,171.77 396.04,176.60 391.90,181.43 387.76,176.60" fill="#1756A3"/>
<polygon points="413.70,163.97 417.84,168.80 413.70,173.63 409.56,168.80" fill="#1756A3"/>
<polygon points="480.30,162.77 484.44,167.60 480.30,172.43 476.16,167.60" fill="#1756A3"/>
<polygon points="504.60,162.77 508.74,167.60 504.60,172.43 500.46,167.60" fill="#1756A3"/>
<text transform="translate(-0.30,343.20)" font-size="20.8" font-weight="bold" text-anchor="start" fill="#000">B</text>
<rect x="49.20" y="364.10" width="3.70" height="179.90" fill="#1a1a1a"/>
<rect x="46.90" y="364.50" width="3.00" height="2.80" fill="#1a1a1a"/>
<text transform="translate(44.80,370.10) scale(0.82,1)" font-size="11" font-weight="normal" text-anchor="end" fill="#222" stroke="#222" stroke-width="0.42">400</text>
<rect x="46.90" y="399.70" width="3.00" height="2.80" fill="#1a1a1a"/>
<text transform="translate(44.80,405.30) scale(0.82,1)" font-size="11" font-weight="normal" text-anchor="end" fill="#222" stroke="#222" stroke-width="0.42">300</text>
<rect x="46.90" y="434.90" width="3.00" height="2.80" fill="#1a1a1a"/>
<text transform="translate(44.80,440.50) scale(0.82,1)" font-size="11" font-weight="normal" text-anchor="end" fill="#222" stroke="#222" stroke-width="0.42">200</text>
<rect x="46.90" y="470.10" width="3.00" height="2.80" fill="#1a1a1a"/>
<text transform="translate(44.80,475.70) scale(0.82,1)" font-size="11" font-weight="normal" text-anchor="end" fill="#222" stroke="#222" stroke-width="0.42">100</text>
<rect x="46.90" y="505.30" width="3.00" height="2.80" fill="#1a1a1a"/>
<text transform="translate(44.80,510.90) scale(0.82,1)" font-size="11" font-weight="normal" text-anchor="end" fill="#222" stroke="#222" stroke-width="0.42">0</text>
<rect x="46.90" y="540.50" width="3.00" height="2.80" fill="#1a1a1a"/>
<text transform="translate(44.80,546.10) scale(0.82,1)" font-size="11" font-weight="normal" text-anchor="end" fill="#222" stroke="#222" stroke-width="0.42">-100</text>
<text transform="translate(14.90,534.90) rotate(-90)" font-size="11.9" font-weight="bold" text-anchor="start" fill="#111" stroke="#111" stroke-width="0.25">Mean NK Counts (Cells/mm³)</text>
<rect x="69.10" y="551.60" width="102.30" height="3.20" fill="#1a1a1a"/>
<rect x="69.10" y="550.20" width="3.20" height="6.00" fill="#1a1a1a"/>
<rect x="188.50" y="551.60" width="154.40" height="3.20" fill="#1a1a1a"/>
<rect x="188.50" y="550.20" width="3.20" height="6.00" fill="#1a1a1a"/>
<rect x="360.30" y="551.60" width="74.30" height="3.20" fill="#1a1a1a"/>
<rect x="360.30" y="550.20" width="3.20" height="6.00" fill="#1a1a1a"/>
<rect x="454.20" y="551.60" width="65.80" height="3.20" fill="#1a1a1a"/>
<rect x="454.20" y="550.20" width="3.20" height="6.00" fill="#1a1a1a"/>
<rect x="97.60" y="553.20" width="3.00" height="3.60" fill="#1a1a1a"/>
<rect x="126.10" y="553.20" width="3.00" height="3.60" fill="#1a1a1a"/>
<rect x="154.70" y="553.20" width="3.00" height="3.60" fill="#1a1a1a"/>
<rect x="211.00" y="553.20" width="3.00" height="3.60" fill="#1a1a1a"/>
<rect x="242.00" y="553.20" width="3.00" height="3.60" fill="#1a1a1a"/>
<rect x="274.00" y="553.20" width="3.00" height="3.60" fill="#1a1a1a"/>
<rect x="306.70" y="553.20" width="3.00" height="3.60" fill="#1a1a1a"/>
<rect x="339.30" y="553.20" width="3.00" height="3.60" fill="#1a1a1a"/>
<rect x="384.80" y="553.20" width="3.00" height="3.60" fill="#1a1a1a"/>
<rect x="412.20" y="553.20" width="3.00" height="3.60" fill="#1a1a1a"/>
<rect x="478.80" y="553.20" width="3.00" height="3.60" fill="#1a1a1a"/>
<rect x="503.90" y="553.20" width="3.00" height="3.60" fill="#1a1a1a"/>
<text transform="translate(70.70,567.70) scale(0.84,1)" font-size="10.5" font-weight="normal" text-anchor="middle" fill="#222" stroke="#222" stroke-width="0.42">Scn</text>
<text transform="translate(99.10,567.70) scale(0.84,1)" font-size="10.5" font-weight="normal" text-anchor="middle" fill="#222" stroke="#222" stroke-width="0.42">0</text>
<text transform="translate(127.60,567.70) scale(0.84,1)" font-size="10.5" font-weight="normal" text-anchor="middle" fill="#222" stroke="#222" stroke-width="0.42">0</text>
<text transform="translate(127.60,577.10)" font-size="9.0" font-weight="normal" text-anchor="middle" fill="#222" stroke="#222" stroke-width="0.2">(2 hr)</text>
<text transform="translate(156.20,567.70) scale(0.84,1)" font-size="10.5" font-weight="normal" text-anchor="middle" fill="#222" stroke="#222" stroke-width="0.42">0</text>
<text transform="translate(156.20,577.10)" font-size="9.0" font-weight="normal" text-anchor="middle" fill="#222" stroke="#222" stroke-width="0.2">(4 hr)</text>
<text transform="translate(190.50,567.70) scale(0.84,1)" font-size="10.5" font-weight="normal" text-anchor="middle" fill="#222" stroke="#222" stroke-width="0.42">2</text>
<text transform="translate(212.50,567.70) scale(0.84,1)" font-size="10.5" font-weight="normal" text-anchor="middle" fill="#222" stroke="#222" stroke-width="0.42">7</text>
<text transform="translate(243.50,567.70) scale(0.84,1)" font-size="10.5" font-weight="normal" text-anchor="middle" fill="#222" stroke="#222" stroke-width="0.42">14</text>
<text transform="translate(275.50,567.70) scale(0.84,1)" font-size="10.5" font-weight="normal" text-anchor="middle" fill="#222" stroke="#222" stroke-width="0.42">21</text>
<text transform="translate(308.20,567.70) scale(0.84,1)" font-size="10.5" font-weight="normal" text-anchor="middle" fill="#222" stroke="#222" stroke-width="0.42">28</text>
<text transform="translate(340.80,567.70) scale(0.84,1)" font-size="10.5" font-weight="normal" text-anchor="middle" fill="#222" stroke="#222" stroke-width="0.42">35</text>
<text transform="translate(361.80,567.70) scale(0.84,1)" font-size="10.5" font-weight="normal" text-anchor="middle" fill="#222" stroke="#222" stroke-width="0.42">42</text>
<text transform="translate(386.30,567.70) scale(0.84,1)" font-size="10.5" font-weight="normal" text-anchor="middle" fill="#222" stroke="#222" stroke-width="0.42">42</text>
<text transform="translate(386.30,577.10)" font-size="9.0" font-weight="normal" text-anchor="middle" fill="#222" stroke="#222" stroke-width="0.2">(2 hr)</text>
<text transform="translate(413.70,567.70) scale(0.84,1)" font-size="10.5" font-weight="normal" text-anchor="middle" fill="#222" stroke="#222" stroke-width="0.42">42</text>
<text transform="translate(413.70,577.10)" font-size="9.0" font-weight="normal" text-anchor="middle" fill="#222" stroke="#222" stroke-width="0.2">(4 hr)</text>
<text transform="translate(455.50,567.70) scale(0.84,1)" font-size="10.5" font-weight="normal" text-anchor="middle" fill="#222" stroke="#222" stroke-width="0.42">49</text>
<text transform="translate(480.30,567.70) scale(0.84,1)" font-size="10.5" font-weight="normal" text-anchor="middle" fill="#222" stroke="#222" stroke-width="0.42">52</text>
<text transform="translate(505.40,567.70) scale(0.84,1)" font-size="10.5" font-weight="normal" text-anchor="middle" fill="#222" stroke="#222" stroke-width="0.42">56</text>
<text transform="translate(131.65,565.70)" font-size="8.5" font-weight="normal" text-anchor="middle" fill="#222" stroke="#222" stroke-width="0.1">*</text>
<text transform="translate(160.25,565.70)" font-size="8.5" font-weight="normal" text-anchor="middle" fill="#222" stroke="#222" stroke-width="0.1">*</text>
<text transform="translate(392.80,565.70)" font-size="8.5" font-weight="normal" text-anchor="middle" fill="#222" stroke="#222" stroke-width="0.1">*</text>
<text transform="translate(420.20,565.70)" font-size="8.5" font-weight="normal" text-anchor="middle" fill="#222" stroke="#222" stroke-width="0.1">*</text>
<text transform="translate(290.50,592.40)" font-size="11.6" font-weight="bold" text-anchor="middle" fill="#111" stroke="#111" stroke-width="0.25">Time (Day)</text>
<text transform="translate(99.50,358.60) scale(0.84,1)" font-size="10.6" font-weight="normal" text-anchor="middle" fill="#222" stroke="#222" stroke-width="0.4">Dosing</text>
<rect x="98.20" y="362.10" width="3.20" height="11.20" fill="#000"/>
<polygon points="95.30,372.30 104.30,372.30 99.80,380.00" fill="#000"/>
<rect x="245.80" y="362.10" width="3.20" height="11.20" fill="#000"/>
<polygon points="242.90,372.30 251.90,372.30 247.40,380.00" fill="#000"/>
<rect x="309.90" y="362.10" width="3.20" height="11.20" fill="#000"/>
<polygon points="307.00,372.30 316.00,372.30 311.50,380.00" fill="#000"/>
<rect x="362.60" y="362.10" width="3.20" height="11.20" fill="#000"/>
<polygon points="359.70,372.30 368.70,372.30 364.20,380.00" fill="#000"/>
<rect x="51.90" y="410.20" width="9.60" height="3.40" fill="#000"/>
<rect x="70.02" y="410.20" width="9.60" height="3.40" fill="#000"/>
<rect x="88.14" y="410.20" width="9.60" height="3.40" fill="#000"/>
<rect x="106.26" y="410.20" width="9.60" height="3.40" fill="#000"/>
<rect x="124.38" y="410.20" width="9.60" height="3.40" fill="#000"/>
<rect x="142.50" y="410.20" width="9.60" height="3.40" fill="#000"/>
<rect x="160.62" y="410.20" width="9.60" height="3.40" fill="#000"/>
<rect x="178.74" y="410.20" width="9.60" height="3.40" fill="#000"/>
<rect x="196.86" y="410.20" width="9.60" height="3.40" fill="#000"/>
<rect x="214.98" y="410.20" width="9.60" height="3.40" fill="#000"/>
<rect x="233.10" y="410.20" width="9.60" height="3.40" fill="#000"/>
<rect x="251.22" y="410.20" width="9.60" height="3.40" fill="#000"/>
<rect x="269.34" y="410.20" width="9.60" height="3.40" fill="#000"/>
<rect x="287.46" y="410.20" width="9.60" height="3.40" fill="#000"/>
<rect x="305.58" y="410.20" width="9.60" height="3.40" fill="#000"/>
<rect x="323.70" y="410.20" width="9.60" height="3.40" fill="#000"/>
<rect x="341.82" y="410.20" width="9.60" height="3.40" fill="#000"/>
<rect x="359.94" y="410.20" width="9.60" height="3.40" fill="#000"/>
<rect x="378.06" y="410.20" width="9.60" height="3.40" fill="#000"/>
<rect x="396.18" y="410.20" width="9.60" height="3.40" fill="#000"/>
<text transform="translate(412.80,415.20) scale(0.86,1)" font-size="10.5" font-weight="normal" text-anchor="start" fill="#222" stroke="#222" stroke-width="0.4">Mean for healthy patients</text>
<line x1="406.90" y1="337.10" x2="429.80" y2="337.10" stroke="#F5C21B" stroke-width="3.0" stroke-linecap="butt"/>
<polygon points="412.68,340.94 423.72,340.94 418.20,332.06" fill="#F5C21B"/>
<text transform="translate(433.80,340.00)" font-size="8.5" font-weight="normal" text-anchor="start" fill="#222" stroke="#222" stroke-width="0.2">0.5 mg/kg (n=3)</text>
<line x1="406.90" y1="347.90" x2="429.80" y2="347.90" stroke="#CF62A0" stroke-width="3.0" stroke-linecap="butt"/>
<rect x="414.60" y="344.30" width="7.20" height="7.20" fill="#CF62A0"/>
<text transform="translate(433.80,350.80)" font-size="8.5" font-weight="normal" text-anchor="start" fill="#222" stroke="#222" stroke-width="0.2">1.0 mg/kg (n=2)</text>
<line x1="406.90" y1="358.70" x2="429.80" y2="358.70" stroke="#572590" stroke-width="3.0" stroke-linecap="butt"/>
<circle cx="418.20" cy="358.70" r="3.96" fill="#572590"/>
<text transform="translate(433.80,361.60)" font-size="8.5" font-weight="normal" text-anchor="start" fill="#222" stroke="#222" stroke-width="0.2">2.5 mg/kg (n=6)</text>
<line x1="406.90" y1="369.50" x2="429.80" y2="369.50" stroke="#F37A2A" stroke-width="3.0" stroke-linecap="butt"/>
<polygon points="412.68,365.66 423.72,365.66 418.20,375.02" fill="#F37A2A"/>
<text transform="translate(433.80,372.40)" font-size="8.5" font-weight="normal" text-anchor="start" fill="#222" stroke="#222" stroke-width="0.2">5.0 mg/kg (n=4)</text>
<line x1="406.90" y1="380.30" x2="429.80" y2="380.30" stroke="#1FA274" stroke-width="3.0" stroke-linecap="butt"/>
<rect x="414.60" y="376.70" width="7.20" height="7.20" fill="#1FA274"/>
<text transform="translate(433.80,383.20)" font-size="8.5" font-weight="normal" text-anchor="start" fill="#222" stroke="#222" stroke-width="0.2">10 mg/kg (n=3)</text>
<line x1="406.90" y1="391.10" x2="429.80" y2="391.10" stroke="#1756A3" stroke-width="3.0" stroke-linecap="butt"/>
<polygon points="418.20,386.06 422.52,391.10 418.20,396.14 413.88,391.10" fill="#1756A3"/>
<text transform="translate(433.80,394.00)" font-size="8.5" font-weight="normal" text-anchor="start" fill="#222" stroke="#222" stroke-width="0.2">20 mg/kg (n=14)</text>
<line x1="213.50" y1="450.50" x2="213.50" y2="466.00" stroke="#F5C21B" stroke-width="2.1" stroke-linecap="butt"/>
<line x1="209.50" y1="450.50" x2="217.50" y2="450.50" stroke="#F5C21B" stroke-width="2.5" stroke-linecap="butt"/>
<line x1="209.50" y1="466.00" x2="217.50" y2="466.00" stroke="#F5C21B" stroke-width="2.5" stroke-linecap="butt"/>
<line x1="309.30" y1="449.90" x2="309.30" y2="460.30" stroke="#F5C21B" stroke-width="2.1" stroke-linecap="butt"/>
<line x1="305.30" y1="449.90" x2="313.30" y2="449.90" stroke="#F5C21B" stroke-width="2.5" stroke-linecap="butt"/>
<line x1="305.30" y1="460.30" x2="313.30" y2="460.30" stroke="#F5C21B" stroke-width="2.5" stroke-linecap="butt"/>
<polyline points="99.70,466.00 128.40,505.00 156.60,505.00 171.40,495.50" fill="none" stroke="#F5C21B" stroke-width="3.6" stroke-linejoin="round" stroke-linecap="butt"/>
<polyline points="189.50,489.00 213.50,470.00 244.20,474.60 309.30,460.30 342.20,461.10" fill="none" stroke="#F5C21B" stroke-width="3.6" stroke-linejoin="round" stroke-linecap="butt"/>
<polyline points="355.00,463.40 434.60,477.30" fill="none" stroke="#F5C21B" stroke-width="3.6" stroke-linejoin="round" stroke-linecap="butt"/>
<polyline points="456.00,484.70 481.20,488.00 505.50,462.00" fill="none" stroke="#F5C21B" stroke-width="3.6" stroke-linejoin="round" stroke-linecap="butt"/>
<polygon points="304.01,463.98 314.59,463.98 309.30,455.47" fill="#F5C21B"/>
<line x1="244.20" y1="450.50" x2="244.20" y2="460.00" stroke="#CF62A0" stroke-width="2.1" stroke-linecap="butt"/>
<line x1="240.20" y1="450.50" x2="248.20" y2="450.50" stroke="#CF62A0" stroke-width="2.5" stroke-linecap="butt"/>
<line x1="240.20" y1="460.00" x2="248.20" y2="460.00" stroke="#CF62A0" stroke-width="2.5" stroke-linecap="butt"/>
<polyline points="99.70,470.00 128.40,507.00 156.60,508.00 171.40,501.00" fill="none" stroke="#CF62A0" stroke-width="3.6" stroke-linejoin="round" stroke-linecap="butt"/>
<polyline points="190.80,496.00 213.50,468.00 244.20,459.00 309.30,463.70 342.20,467.70" fill="none" stroke="#CF62A0" stroke-width="3.6" stroke-linejoin="round" stroke-linecap="butt"/>
<polyline points="355.00,473.60 434.60,478.00" fill="none" stroke="#CF62A0" stroke-width="3.6" stroke-linejoin="round" stroke-linecap="butt"/>
<rect x="240.75" y="455.55" width="6.90" height="6.90" fill="#CF62A0"/>
<line x1="71.20" y1="402.60" x2="71.20" y2="485.00" stroke="#572590" stroke-width="2.1" stroke-linecap="butt"/>
<line x1="67.20" y1="402.60" x2="75.20" y2="402.60" stroke="#572590" stroke-width="2.5" stroke-linecap="butt"/>
<line x1="67.20" y1="485.00" x2="75.20" y2="485.00" stroke="#572590" stroke-width="2.5" stroke-linecap="butt"/>
<line x1="99.70" y1="383.00" x2="99.70" y2="439.60" stroke="#572590" stroke-width="2.1" stroke-linecap="butt"/>
<line x1="95.70" y1="383.00" x2="103.70" y2="383.00" stroke="#572590" stroke-width="2.5" stroke-linecap="butt"/>
<line x1="95.70" y1="439.60" x2="103.70" y2="439.60" stroke="#572590" stroke-width="2.5" stroke-linecap="butt"/>
<line x1="190.80" y1="479.70" x2="190.80" y2="492.00" stroke="#572590" stroke-width="2.1" stroke-linecap="butt"/>
<line x1="186.80" y1="479.70" x2="194.80" y2="479.70" stroke="#572590" stroke-width="2.5" stroke-linecap="butt"/>
<line x1="186.80" y1="492.00" x2="194.80" y2="492.00" stroke="#572590" stroke-width="2.5" stroke-linecap="butt"/>
<line x1="213.50" y1="456.20" x2="213.50" y2="476.20" stroke="#572590" stroke-width="2.1" stroke-linecap="butt"/>
<line x1="209.50" y1="456.20" x2="217.50" y2="456.20" stroke="#572590" stroke-width="2.5" stroke-linecap="butt"/>
<line x1="209.50" y1="476.20" x2="217.50" y2="476.20" stroke="#572590" stroke-width="2.5" stroke-linecap="butt"/>
<line x1="362.60" y1="485.00" x2="362.60" y2="494.90" stroke="#572590" stroke-width="2.1" stroke-linecap="butt"/>
<line x1="358.60" y1="485.00" x2="366.60" y2="485.00" stroke="#572590" stroke-width="2.5" stroke-linecap="butt"/>
<line x1="358.60" y1="494.90" x2="366.60" y2="494.90" stroke="#572590" stroke-width="2.5" stroke-linecap="butt"/>
<line x1="414.70" y1="485.00" x2="414.70" y2="496.70" stroke="#572590" stroke-width="2.1" stroke-linecap="butt"/>
<line x1="410.70" y1="485.00" x2="418.70" y2="485.00" stroke="#572590" stroke-width="2.5" stroke-linecap="butt"/>
<line x1="410.70" y1="496.70" x2="418.70" y2="496.70" stroke="#572590" stroke-width="2.5" stroke-linecap="butt"/>
<line x1="505.50" y1="441.80" x2="505.50" y2="499.80" stroke="#572590" stroke-width="2.1" stroke-linecap="butt"/>
<line x1="501.50" y1="441.80" x2="509.50" y2="441.80" stroke="#572590" stroke-width="2.5" stroke-linecap="butt"/>
<line x1="501.50" y1="499.80" x2="509.50" y2="499.80" stroke="#572590" stroke-width="2.5" stroke-linecap="butt"/>
<polyline points="71.20,443.10 99.70,439.60 128.40,497.50 156.60,500.50 171.40,498.50" fill="none" stroke="#572590" stroke-width="3.6" stroke-linejoin="round" stroke-linecap="butt"/>
<polyline points="190.80,492.00 213.50,476.20 244.20,480.80 309.30,478.00" fill="none" stroke="#572590" stroke-width="3.6" stroke-linejoin="round" stroke-linecap="butt"/>
<polyline points="362.60,485.00 387.00,490.50 414.70,490.50 434.60,482.00" fill="none" stroke="#572590" stroke-width="3.6" stroke-linejoin="round" stroke-linecap="butt"/>
<polyline points="456.00,477.00 481.20,475.00 505.50,470.00" fill="none" stroke="#572590" stroke-width="3.6" stroke-linejoin="round" stroke-linecap="butt"/>
<circle cx="71.20" cy="443.10" r="3.79" fill="#572590"/>
<circle cx="99.70" cy="439.60" r="3.79" fill="#572590"/>
<circle cx="213.50" cy="476.20" r="3.79" fill="#572590"/>
<line x1="71.20" y1="466.60" x2="71.20" y2="495.70" stroke="#F37A2A" stroke-width="2.1" stroke-linecap="butt"/>
<line x1="67.20" y1="466.60" x2="75.20" y2="466.60" stroke="#F37A2A" stroke-width="2.5" stroke-linecap="butt"/>
<line x1="67.20" y1="495.70" x2="75.20" y2="495.70" stroke="#F37A2A" stroke-width="2.5" stroke-linecap="butt"/>
<line x1="99.70" y1="445.00" x2="99.70" y2="495.00" stroke="#F37A2A" stroke-width="2.1" stroke-linecap="butt"/>
<line x1="95.70" y1="445.00" x2="103.70" y2="445.00" stroke="#F37A2A" stroke-width="2.5" stroke-linecap="butt"/>
<line x1="95.70" y1="495.00" x2="103.70" y2="495.00" stroke="#F37A2A" stroke-width="2.5" stroke-linecap="butt"/>
<line x1="387.00" y1="470.80" x2="387.00" y2="476.00" stroke="#F37A2A" stroke-width="2.1" stroke-linecap="butt"/>
<line x1="383.00" y1="470.80" x2="391.00" y2="470.80" stroke="#F37A2A" stroke-width="2.5" stroke-linecap="butt"/>
<line x1="383.00" y1="476.00" x2="391.00" y2="476.00" stroke="#F37A2A" stroke-width="2.5" stroke-linecap="butt"/>
<polyline points="71.20,466.60 99.70,469.70 128.40,506.60 156.60,507.80 171.40,502.50" fill="none" stroke="#F37A2A" stroke-width="3.6" stroke-linejoin="round" stroke-linecap="butt"/>
<polyline points="190.80,495.00 213.50,470.50 244.20,464.00 309.30,468.90 342.20,471.20" fill="none" stroke="#F37A2A" stroke-width="3.6" stroke-linejoin="round" stroke-linecap="butt"/>
<polyline points="362.60,478.00 387.00,476.00 414.70,478.00 434.60,478.80" fill="none" stroke="#F37A2A" stroke-width="3.6" stroke-linejoin="round" stroke-linecap="butt"/>
<polyline points="456.00,473.40 481.20,466.00 505.50,460.30" fill="none" stroke="#F37A2A" stroke-width="3.6" stroke-linejoin="round" stroke-linecap="butt"/>
<polygon points="208.21,466.82 218.79,466.82 213.50,475.79" fill="#F37A2A"/>
<polygon points="238.91,460.32 249.49,460.32 244.20,469.29" fill="#F37A2A"/>
<polygon points="304.01,465.22 314.59,465.22 309.30,474.19" fill="#F37A2A"/>
<polygon points="500.21,456.62 510.79,456.62 505.50,465.59" fill="#F37A2A"/>
<circle cx="99.7" cy="445" r="3" fill="#F37A2A"/>
<line x1="505.5" y1="444" x2="505.5" y2="470" stroke="#F37A2A" stroke-width="2.6"/>
<line x1="71.20" y1="454.20" x2="71.20" y2="489.30" stroke="#1FA274" stroke-width="2.1" stroke-linecap="butt"/>
<line x1="67.20" y1="454.20" x2="75.20" y2="454.20" stroke="#1FA274" stroke-width="2.5" stroke-linecap="butt"/>
<line x1="67.20" y1="489.30" x2="75.20" y2="489.30" stroke="#1FA274" stroke-width="2.5" stroke-linecap="butt"/>
<line x1="99.70" y1="425.70" x2="99.70" y2="490.70" stroke="#1FA274" stroke-width="2.1" stroke-linecap="butt"/>
<line x1="95.70" y1="425.70" x2="103.70" y2="425.70" stroke="#1FA274" stroke-width="2.5" stroke-linecap="butt"/>
<line x1="95.70" y1="490.70" x2="103.70" y2="490.70" stroke="#1FA274" stroke-width="2.5" stroke-linecap="butt"/>
<line x1="362.60" y1="448.10" x2="362.60" y2="470.00" stroke="#1FA274" stroke-width="2.1" stroke-linecap="butt"/>
<line x1="358.60" y1="448.10" x2="366.60" y2="448.10" stroke="#1FA274" stroke-width="2.5" stroke-linecap="butt"/>
<line x1="358.60" y1="470.00" x2="366.60" y2="470.00" stroke="#1FA274" stroke-width="2.5" stroke-linecap="butt"/>
<polyline points="71.20,454.20 99.70,456.40 128.40,503.10 156.60,504.30 171.40,499.50" fill="none" stroke="#1FA274" stroke-width="3.6" stroke-linejoin="round" stroke-linecap="butt"/>
<polyline points="190.80,497.00 213.50,486.00 244.20,481.00 309.30,476.70 342.20,474.10" fill="none" stroke="#1FA274" stroke-width="3.6" stroke-linejoin="round" stroke-linecap="butt"/>
<polyline points="362.60,470.00 387.00,488.40 414.70,490.00 434.60,485.00" fill="none" stroke="#1FA274" stroke-width="3.6" stroke-linejoin="round" stroke-linecap="butt"/>
<polyline points="456.00,483.00 481.20,480.00 505.50,470.40" fill="none" stroke="#1FA274" stroke-width="3.6" stroke-linejoin="round" stroke-linecap="butt"/>
<rect x="67.75" y="450.75" width="6.90" height="6.90" fill="#1FA274"/>
<rect x="96.25" y="452.95" width="6.90" height="6.90" fill="#1FA274"/>
<rect x="502.05" y="466.95" width="6.90" height="6.90" fill="#1FA274"/>
<line x1="71.20" y1="435.30" x2="71.20" y2="491.40" stroke="#1756A3" stroke-width="3.4000000000000004" stroke-linecap="butt"/>
<line x1="67.20" y1="435.30" x2="75.20" y2="435.30" stroke="#1756A3" stroke-width="2.5" stroke-linecap="butt"/>
<line x1="67.20" y1="491.40" x2="75.20" y2="491.40" stroke="#1756A3" stroke-width="2.5" stroke-linecap="butt"/>
<line x1="99.70" y1="430.70" x2="99.70" y2="500.00" stroke="#1756A3" stroke-width="3.4000000000000004" stroke-linecap="butt"/>
<line x1="95.70" y1="430.70" x2="103.70" y2="430.70" stroke="#1756A3" stroke-width="2.5" stroke-linecap="butt"/>
<line x1="95.70" y1="500.00" x2="103.70" y2="500.00" stroke="#1756A3" stroke-width="2.5" stroke-linecap="butt"/>
<line x1="128.40" y1="480.50" x2="128.40" y2="510.50" stroke="#1756A3" stroke-width="3.4000000000000004" stroke-linecap="butt"/>
<line x1="124.40" y1="480.50" x2="132.40" y2="480.50" stroke="#1756A3" stroke-width="2.5" stroke-linecap="butt"/>
<line x1="124.40" y1="510.50" x2="132.40" y2="510.50" stroke="#1756A3" stroke-width="2.5" stroke-linecap="butt"/>
<line x1="156.60" y1="485.80" x2="156.60" y2="511.20" stroke="#1756A3" stroke-width="3.4000000000000004" stroke-linecap="butt"/>
<line x1="152.60" y1="485.80" x2="160.60" y2="485.80" stroke="#1756A3" stroke-width="2.5" stroke-linecap="butt"/>
<line x1="152.60" y1="511.20" x2="160.60" y2="511.20" stroke="#1756A3" stroke-width="2.5" stroke-linecap="butt"/>
<line x1="190.80" y1="490.00" x2="190.80" y2="507.40" stroke="#1756A3" stroke-width="3.4000000000000004" stroke-linecap="butt"/>
<line x1="186.80" y1="490.00" x2="194.80" y2="490.00" stroke="#1756A3" stroke-width="2.5" stroke-linecap="butt"/>
<line x1="186.80" y1="507.40" x2="194.80" y2="507.40" stroke="#1756A3" stroke-width="2.5" stroke-linecap="butt"/>
<line x1="213.50" y1="480.00" x2="213.50" y2="497.70" stroke="#1756A3" stroke-width="3.4000000000000004" stroke-linecap="butt"/>
<line x1="209.50" y1="480.00" x2="217.50" y2="480.00" stroke="#1756A3" stroke-width="2.5" stroke-linecap="butt"/>
<line x1="209.50" y1="497.70" x2="217.50" y2="497.70" stroke="#1756A3" stroke-width="2.5" stroke-linecap="butt"/>
<line x1="244.20" y1="471.50" x2="244.20" y2="496.90" stroke="#1756A3" stroke-width="3.4000000000000004" stroke-linecap="butt"/>
<line x1="240.20" y1="471.50" x2="248.20" y2="471.50" stroke="#1756A3" stroke-width="2.5" stroke-linecap="butt"/>
<line x1="240.20" y1="496.90" x2="248.20" y2="496.90" stroke="#1756A3" stroke-width="2.5" stroke-linecap="butt"/>
<line x1="309.30" y1="460.30" x2="309.30" y2="500.00" stroke="#1756A3" stroke-width="3.4000000000000004" stroke-linecap="butt"/>
<line x1="305.30" y1="460.30" x2="313.30" y2="460.30" stroke="#1756A3" stroke-width="2.5" stroke-linecap="butt"/>
<line x1="305.30" y1="500.00" x2="313.30" y2="500.00" stroke="#1756A3" stroke-width="2.5" stroke-linecap="butt"/>
<line x1="362.60" y1="459.70" x2="362.60" y2="501.30" stroke="#1756A3" stroke-width="3.4000000000000004" stroke-linecap="butt"/>
<line x1="358.60" y1="459.70" x2="366.60" y2="459.70" stroke="#1756A3" stroke-width="2.5" stroke-linecap="butt"/>
<line x1="358.60" y1="501.30" x2="366.60" y2="501.30" stroke="#1756A3" stroke-width="2.5" stroke-linecap="butt"/>
<line x1="387.00" y1="457.90" x2="387.00" y2="508.70" stroke="#1756A3" stroke-width="3.4000000000000004" stroke-linecap="butt"/>
<line x1="383.00" y1="457.90" x2="391.00" y2="457.90" stroke="#1756A3" stroke-width="2.5" stroke-linecap="butt"/>
<line x1="383.00" y1="508.70" x2="391.00" y2="508.70" stroke="#1756A3" stroke-width="2.5" stroke-linecap="butt"/>
<line x1="414.70" y1="435.70" x2="414.70" y2="521.30" stroke="#1756A3" stroke-width="3.4000000000000004" stroke-linecap="butt"/>
<line x1="410.70" y1="435.70" x2="418.70" y2="435.70" stroke="#1756A3" stroke-width="2.5" stroke-linecap="butt"/>
<line x1="410.70" y1="521.30" x2="418.70" y2="521.30" stroke="#1756A3" stroke-width="2.5" stroke-linecap="butt"/>
<line x1="481.20" y1="465.70" x2="481.20" y2="492.30" stroke="#1756A3" stroke-width="3.4000000000000004" stroke-linecap="butt"/>
<line x1="477.20" y1="465.70" x2="485.20" y2="465.70" stroke="#1756A3" stroke-width="2.5" stroke-linecap="butt"/>
<line x1="477.20" y1="492.30" x2="485.20" y2="492.30" stroke="#1756A3" stroke-width="2.5" stroke-linecap="butt"/>
<polyline points="71.20,462.90 99.70,465.70 128.40,495.00 156.60,499.70 171.40,497.00" fill="none" stroke="#1756A3" stroke-width="3.6" stroke-linejoin="round" stroke-linecap="butt"/>
<polyline points="190.80,498.20 213.50,487.70 244.20,484.60 309.30,480.20 342.20,481.60" fill="none" stroke="#1756A3" stroke-width="3.6" stroke-linejoin="round" stroke-linecap="butt"/>
<polyline points="362.60,482.50 387.00,483.80 414.70,478.20 434.60,478.80" fill="none" stroke="#1756A3" stroke-width="3.6" stroke-linejoin="round" stroke-linecap="butt"/>
<polyline points="456.00,479.70 481.20,479.70 507.00,484.70" fill="none" stroke="#1756A3" stroke-width="3.6" stroke-linejoin="round" stroke-linecap="butt"/>
<polygon points="71.20,455.55 77.50,462.90 71.20,470.25 64.90,462.90" fill="#1756A3"/>
<polygon points="99.70,458.35 106.00,465.70 99.70,473.05 93.40,465.70" fill="#1756A3"/>
<polygon points="128.40,487.65 134.70,495.00 128.40,502.35 122.10,495.00" fill="#1756A3"/>
<polygon points="156.60,492.35 162.90,499.70 156.60,507.05 150.30,499.70" fill="#1756A3"/>
<polygon points="190.80,490.85 197.10,498.20 190.80,505.55 184.50,498.20" fill="#1756A3"/>
<polygon points="213.50,480.35 219.80,487.70 213.50,495.05 207.20,487.70" fill="#1756A3"/>
<polygon points="244.20,477.25 250.50,484.60 244.20,491.95 237.90,484.60" fill="#1756A3"/>
<polygon points="309.30,472.85 315.60,480.20 309.30,487.55 303.00,480.20" fill="#1756A3"/>
<polygon points="362.60,475.15 368.90,482.50 362.60,489.85 356.30,482.50" fill="#1756A3"/>
<polygon points="387.00,476.45 393.30,483.80 387.00,491.15 380.70,483.80" fill="#1756A3"/>
<polygon points="414.70,470.85 421.00,478.20 414.70,485.55 408.40,478.20" fill="#1756A3"/>
<polygon points="481.20,472.35 487.50,479.70 481.20,487.05 474.90,479.70" fill="#1756A3"/>
<polygon points="507.00,477.35 513.30,484.70 507.00,492.05 500.70,484.70" fill="#1756A3"/>
</svg>
</body></html>
